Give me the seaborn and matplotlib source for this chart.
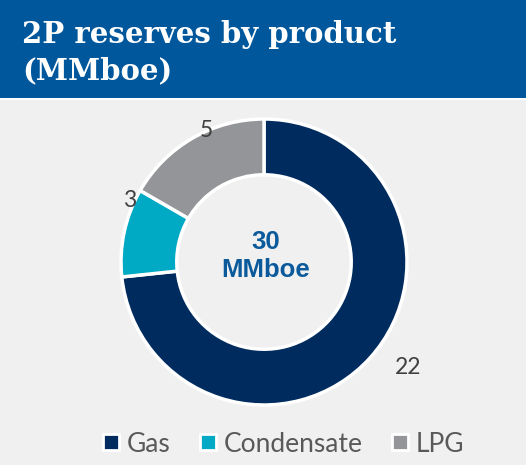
import matplotlib
matplotlib.use("Agg")
import matplotlib.pyplot as plt
from matplotlib.patches import Rectangle
from matplotlib.lines import Line2D
import seaborn as sns

# Data
products = ["Gas", "Condensate", "LPG"]
reserves = [22, 3, 5]
colors = ["#002b5e", "#00aac4", "#939598"]
title = "2P reserves by product\n(MMboe)"
center_label = "30\nMMboe"

sns.set_theme(style="white")
plt.rcParams["font.family"] = ["Lato", "DejaVu Sans"]

W, H = 526, 465
fig = plt.figure(figsize=(W / 100, H / 100), dpi=100)
fig.patch.set_facecolor("#f0f0f0")

# Header band
fig.patches.append(Rectangle((0, 1 - 98 / H), 1, 98 / H, transform=fig.transFigure,
                             facecolor="#00579b", edgecolor="none", zorder=0))
fig.patches.append(Rectangle((0, 1 - 100 / H), 1, 2 / H, transform=fig.transFigure,
                             facecolor="white", edgecolor="none", zorder=0))
fig.text(22 / W, 1 - 20 / H, title, ha="left", va="top", color="white",
         fontsize=21, fontweight="bold", family="DejaVu Serif", linespacing=1.3)

# Donut axes: radius 1 -> 143 px, centred at (264, 262)
R = 143
lim = 1.25
size = 2 * lim * R
cx, cy = 264, H - 262
ax = fig.add_axes([(cx - size / 2) / W, (cy - size / 2) / H, size / W, size / H])
ax.set_facecolor("none")

wedges, _ = ax.pie(reserves, colors=colors, startangle=90, counterclock=False,
                   radius=1.0,
                   wedgeprops=dict(width=0.39, edgecolor="white", linewidth=2.5))
ax.set_xlim(-lim, lim)
ax.set_ylim(-lim, lim)
ax.set_aspect("equal")
ax.axis("off")

# Value labels just outside the ring
label_pos = [(1.01, -0.74), (-0.94, 0.43), (-0.40, 0.92)]
for (x, y), v in zip(label_pos, reserves):
    ax.text(x, y, str(v), ha="center", va="center", fontsize=16.5, color="#404040")

ax.text(0.01, 0.04, center_label, ha="center", va="center", fontsize=18.5,
        fontweight="bold", color="#0a5a9c", family="Liberation Sans", linespacing=1.2)

# Legend
handles = [Line2D([0], [0], marker="s", linestyle="none", markersize=11,
                  markerfacecolor=c, markeredgecolor="white", markeredgewidth=2)
           for c in colors]
leg = fig.legend(handles, products, loc="center", bbox_to_anchor=(283 / W, 1 - 444 / H),
                 ncol=3, frameon=False, fontsize=19, handlelength=0.7,
                 handletextpad=0.25, columnspacing=1.05, borderaxespad=0)
for t in leg.get_texts():
    t.set_color("#595959")

fig.savefig("out.png", dpi=100, facecolor=fig.get_facecolor())
